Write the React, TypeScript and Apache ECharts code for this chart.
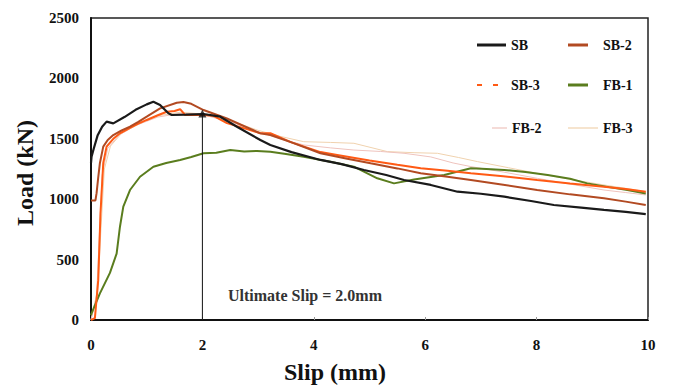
import React, { useEffect, useRef } from "react";
import * as echarts from "echarts";

const FONT = "'Liberation Serif', 'Times New Roman', serif";

const xTicks = [0, 2, 4, 6, 8, 10];
const yTicks = [0, 500, 1000, 1500, 2000, 2500];

const sbSlip = [0, 0.01, 0.05, 0.12, 0.2, 0.28, 0.4, 0.6, 0.8, 1.0, 1.12, 1.24, 1.39, 1.45, 1.7, 2.02, 2.32, 2.62, 3.04, 3.22, 3.6, 4.12, 4.5, 4.9, 5.3, 5.62, 6.1, 6.58, 7.0, 7.42, 7.9, 8.31, 8.8, 9.21, 9.6, 9.96];
const sbLoad = [1300, 1352, 1420, 1530, 1600, 1642, 1628, 1680, 1740, 1785, 1807, 1780, 1711, 1697, 1700, 1705, 1683, 1600, 1490, 1449, 1390, 1325, 1290, 1242, 1200, 1159, 1118, 1062, 1045, 1021, 985, 952, 930, 911, 895, 877];

const sb2Slip = [0, 0.08, 0.1, 0.13, 0.16, 0.22, 0.3, 0.4, 0.55, 0.7, 0.85, 1.0, 1.24, 1.54, 1.66, 1.8, 2.02, 2.44, 3.04, 3.22, 3.6, 4.12, 4.6, 5.02, 5.5, 5.92, 6.4, 6.82, 7.4, 8.01, 8.6, 9.21, 9.6, 9.96];
const sb2Load = [990, 990, 1050, 1180, 1300, 1435, 1490, 1531, 1570, 1600, 1640, 1683, 1752, 1799, 1805, 1790, 1738, 1668, 1545, 1531, 1470, 1380, 1335, 1297, 1255, 1214, 1185, 1159, 1120, 1076, 1040, 1007, 980, 952];

const sb3Slip = [0, 0.07, 0.13, 0.17, 0.22, 0.28, 0.4, 0.52, 0.7, 0.85, 1.0, 1.2, 1.36, 1.5, 1.6, 1.69, 1.8, 2.02, 2.2, 2.44, 2.8, 3.04, 3.22, 3.6, 4.12, 4.42, 5.0, 5.5, 5.92, 6.4, 6.82, 7.4, 8.01, 8.6, 9.21, 9.6, 9.96];
const sb3Load = [0, 15, 330, 880, 1300, 1435, 1500, 1546, 1590, 1625, 1656, 1695, 1724, 1730, 1745, 1697, 1700, 1697, 1690, 1630, 1580, 1546, 1546, 1470, 1390, 1366, 1320, 1285, 1256, 1235, 1214, 1190, 1159, 1130, 1104, 1085, 1062];

const fb1Slip = [0, 0.01, 0.16, 0.34, 0.46, 0.52, 0.58, 0.7, 0.88, 1.12, 1.35, 1.6, 1.8, 2.02, 2.25, 2.5, 2.75, 2.98, 3.22, 3.5, 3.82, 4.3, 4.72, 5.14, 5.44, 5.8, 6.34, 6.82, 7.1, 7.42, 7.8, 8.2, 8.6, 8.91, 9.3, 9.63, 9.96];
const fb1Load = [40, 55, 220, 390, 550, 772, 938, 1076, 1186, 1269, 1300, 1325, 1350, 1380, 1385, 1407, 1395, 1400, 1393, 1375, 1352, 1310, 1269, 1173, 1131, 1163, 1200, 1256, 1250, 1242, 1225, 1200, 1170, 1131, 1100, 1076, 1048];

const fb2Slip = [0, 0.1, 0.15, 0.2, 0.3, 0.5, 0.8, 1.2, 1.6, 2.0, 2.5, 3.0, 3.4, 3.82, 4.3, 4.72, 5.2, 5.62, 6.1, 6.5, 6.82, 7.4, 8.01, 8.6, 9.21, 9.6, 9.96];
const fb2Load = [0, 200, 700, 1200, 1420, 1530, 1610, 1680, 1710, 1700, 1640, 1560, 1500, 1449, 1425, 1407, 1395, 1380, 1350, 1300, 1270, 1225, 1173, 1125, 1076, 1055, 1035];

const fb3Slip = [0, 0.12, 0.18, 0.24, 0.35, 0.55, 0.85, 1.2, 1.6, 2.0, 2.5, 3.0, 3.4, 3.82, 4.3, 4.72, 5.32, 5.8, 6.22, 6.6, 6.94, 7.5, 8.01, 8.6, 9.21, 9.6, 9.96];
const fb3Load = [0, 250, 760, 1250, 1440, 1545, 1620, 1690, 1720, 1705, 1650, 1570, 1520, 1476, 1470, 1463, 1394, 1385, 1380, 1345, 1311, 1260, 1214, 1165, 1118, 1090, 1062];

const ultimateSlip = [2, 2];
const ultimateLoad = [0, 1710];

const zip = (xs: number[], ys: number[]) => xs.map((x, i) => [x, ys[i]]);

export default function App() {
  const ref = useRef<HTMLDivElement>(null);
  useEffect(() => {
    if (!ref.current) return;
    const chart = echarts.init(ref.current, undefined, { renderer: "svg" });
    const labelStyle = { fontFamily: FONT, fontWeight: "bold" as const, fontSize: 15, color: "#111" };
    const mkLine = (name: string, xs: number[], ys: number[], color: string, width: number, z = 2) => ({
      name,
      type: "line",
      data: zip(xs, ys),
      symbol: "none",
      showSymbol: false,
      z,
      lineStyle: { color, width },
      itemStyle: { color },
    });
    const mkLegend = (name: string, left: number, centerY: number, width: number, height: number, pad: number, icon = "rect") => ({
      data: [{ name, icon }],
      left,
      top: centerY - 11,
      itemWidth: width,
      itemHeight: height,
      textStyle: { fontFamily: FONT, fontWeight: "bold", fontSize: 14, color: "#111", padding: [0, 0, 0, pad], lineHeight: 16 },
    });
    chart.setOption({
      animation: false,
      backgroundColor: "#fff",
      grid: { left: 91, right: 25, top: 18, bottom: 68, show: true, borderColor: "#222", borderWidth: 1.5 },
      xAxis: {
        type: "value",
        min: xTicks[0],
        max: xTicks[xTicks.length - 1],
        interval: 2,
        axisLine: { show: true, lineStyle: { color: "#111", width: 2 } },
        axisTick: { show: true, inside: true, length: 3, lineStyle: { color: "#999" } },
        axisLabel: { ...labelStyle, margin: 17, formatter: (v: number) => String(v) },
        splitLine: { show: false },
      },
      yAxis: {
        type: "value",
        min: yTicks[0],
        max: yTicks[yTicks.length - 1],
        interval: 500,
        axisLine: { show: true, lineStyle: { color: "#111", width: 2 } },
        axisTick: { show: false },
        axisLabel: { ...labelStyle, margin: 12, formatter: (v: number) => String(v) },
        splitLine: { show: false },
      },
      legend: [
        mkLegend("SB", 472, 43, 29, 3, 0),
        mkLegend("SB-3", 472, 83, 21, 3, 8, "path://M0,0h5v2h-5z M16,0h5v2h-5z"),
        mkLegend("FB-2", 487, 126, 15, 1.2, 0),
        mkLegend("SB-2", 563, 43, 20, 3, 10),
        mkLegend("FB-1", 563, 83, 20, 3, 10),
        mkLegend("FB-3", 563, 126, 30, 1.2, 0),
      ],
      graphic: [
        {
          type: "text",
          x: 25,
          y: 173,
          rotation: Math.PI / 2,
          style: { text: "Load (kN)", fontFamily: FONT, fontWeight: "bold", fontSize: 24, fill: "#111", align: "center", verticalAlign: "middle", textAlign: "center", textVerticalAlign: "middle" },
        },
        {
          type: "text",
          x: 335,
          y: 372,
          style: { text: "Slip (mm)", fontFamily: FONT, fontWeight: "bold", fontSize: 24, fill: "#111", align: "center", verticalAlign: "middle", textAlign: "center", textVerticalAlign: "middle" },
        },
        {
          type: "text",
          x: 228,
          y: 295,
          style: { text: "Ultimate Slip = 2.0mm", fontFamily: FONT, fontWeight: "bold", fontSize: 16, fill: "#333", align: "left", verticalAlign: "middle", textAlign: "left", textVerticalAlign: "middle" },
        },
      ],
      series: [
        mkLine("FB-3", fb3Slip, fb3Load, "#f0d2ae", 1, 1),
        mkLine("FB-2", fb2Slip, fb2Load, "#efc3bd", 1, 1),
        mkLine("FB-1", fb1Slip, fb1Load, "#5a7d1e", 2),
        mkLine("SB-3", sb3Slip, sb3Load, "#ff5a14", 2),
        mkLine("SB-2", sb2Slip, sb2Load, "#b24a22", 2),
        mkLine("SB", sbSlip, sbLoad, "#1a1a1a", 2.2),
        {
          name: "ultimate",
          type: "line",
          data: zip(ultimateSlip, ultimateLoad),
          symbol: "none",
          z: 3,
          silent: true,
          lineStyle: { color: "#111", width: 1 },
        },
        {
          name: "ultimatePoint",
          type: "scatter",
          data: [[ultimateSlip[1], ultimateLoad[1]]],
          symbol: "triangle",
          symbolSize: 8,
          z: 4,
          silent: true,
          itemStyle: { color: "#111" },
        },
      ],
    });
    return () => chart.dispose();
  }, []);
  return <div ref={ref} style={{ position: "fixed", left: 0, top: 0, width: 673, height: 388, background: "#fff" }} />;
}
